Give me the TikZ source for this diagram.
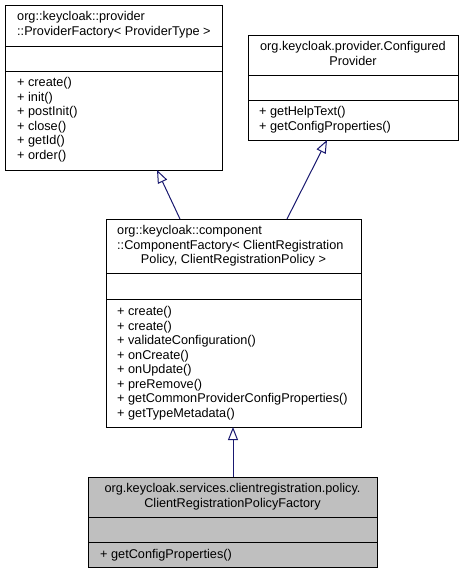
\documentclass[tikz,border=0pt]{standalone}
\usepackage{fontspec}
\setmainfont{Liberation Sans}
\usetikzlibrary{arrows.meta,calc}
\definecolor{edgecol}{HTML}{191970}
\definecolor{boxline}{HTML}{000000}
\definecolor{hlfill}{HTML}{BFBFBF}
\tikzset{
  umlbox/.style={draw=boxline, line width=1pt, anchor=north west, inner sep=0pt, outer sep=0pt},
  txt/.style={font=\fontsize{12.7}{14.5}\selectfont, inner sep=0pt, anchor=base},
  ltxt/.style={txt, anchor=base west},
  sepline/.style={draw=boxline, line width=1pt},
  inherit/.style={draw=edgecol, line width=1pt, -{Triangle[open, length=13pt, width=10pt]}},
}
\begin{document}
\begin{tikzpicture}[x=1pt,y=-1pt]
\useasboundingbox[fill=white] (0,0) rectangle (463,573);

% ---- Box A: ProviderFactory
\node[umlbox, minimum width=217pt, minimum height=165pt] (A) at (5,5) {};
\draw[sepline] ([yshift=-41pt]A.north west) -- ([yshift=-41pt]A.north east);
\draw[sepline] ([yshift=-66pt]A.north west) -- ([yshift=-66pt]A.north east);
\node[ltxt] (At1) at (17,20.5) {org::keycloak::provider};
\node[ltxt] (At2) at (17,35) {::ProviderFactory< ProviderType >};
\foreach \t [count=\i from 0] in {create(),init(),postInit(),close(),getId(),order()}
  \node[ltxt] (Am\i) at (17,86.5+14.5*\i) {+ \t};

% ---- Box B: ConfiguredProvider
\node[umlbox, minimum width=210pt, minimum height=105pt] (B) at (248,35) {};
\draw[sepline] ([yshift=-40pt]B.north west) -- ([yshift=-40pt]B.north east);
\draw[sepline] ([yshift=-65pt]B.north west) -- ([yshift=-65pt]B.north east);
\node[txt] (Bt1) at (353,50.5) {org.keycloak.provider.Configured};
\node[txt] (Bt2) at (353,65) {Provider};
\foreach \t [count=\i from 0] in {getHelpText(),getConfigProperties()}
  \node[ltxt] (Bm\i) at (259,115.5+14.5*\i) {+ \t};

% ---- Box C: ComponentFactory
\node[umlbox, minimum width=255pt, minimum height=208pt] (C) at (106,219) {};
\draw[sepline] ([yshift=-54pt]C.north west) -- ([yshift=-54pt]C.north east);
\draw[sepline] ([yshift=-80pt]C.north west) -- ([yshift=-80pt]C.north east);
\node[ltxt] (Ct1) at (117,234.5) {org::keycloak::component};
\node[ltxt] (Ct2) at (117,249) {::ComponentFactory< ClientRegistration};
\node[txt] (Ct3) at (233.5,263.5) {Policy, ClientRegistrationPolicy >};
\foreach \t [count=\i from 0] in {create(),create(),validateConfiguration(),onCreate(),onUpdate(),preRemove(),getCommonProviderConfigProperties(),getTypeMetadata()}
  \node[ltxt] (Cm\i) at (117,315.5+14.5*\i) {+ \t};

% ---- Box D: ClientRegistrationPolicyFactory (highlighted)
\node[umlbox, fill=hlfill, minimum width=289pt, minimum height=90pt] (D) at (88,477) {};
\draw[sepline] ([yshift=-40pt]D.north west) -- ([yshift=-40pt]D.north east);
\draw[sepline] ([yshift=-65pt]D.north west) -- ([yshift=-65pt]D.north east);
\node[txt] (Dt1) at (232.5,492.5) {org.keycloak.services.clientregistration.policy.};
\node[txt] (Dt2) at (232.5,507) {ClientRegistrationPolicyFactory};
\node[ltxt] (Dm0) at (100,558) {+ getConfigProperties()};

% ---- Inheritance connectors
\draw[inherit] ($(C.north west)+(74,0)$) -- ($(A.south west)+(152,0)$);
\draw[inherit] ($(C.north west)+(181,0)$) -- ($(B.south west)+(79,0)$);
\draw[inherit] ($(D.north west)+(145,0)$) -- ($(C.south west)+(127,0)$);
\end{tikzpicture}
\end{document}
